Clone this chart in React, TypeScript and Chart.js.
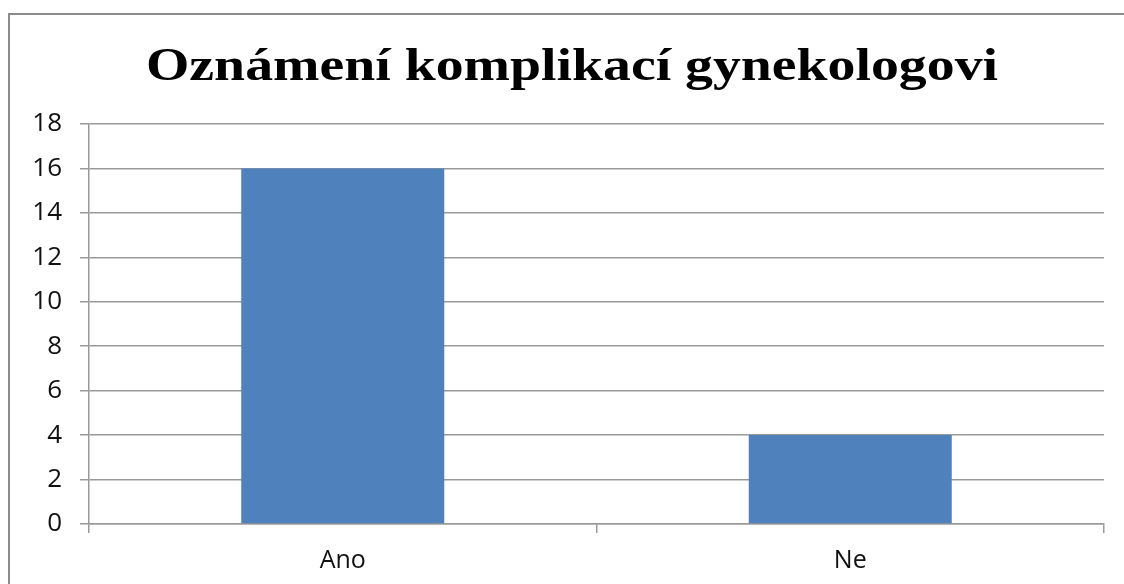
import React, { useEffect, useRef } from "react";
import { Chart, registerables } from "chart.js";

Chart.register(...registerables);

const title = "Oznámení komplikací gynekologovi";
const categories = ["Ano", "Ne"];
const values = [16, 4];
const yMin = 0;
const yMax = 18;
const yStep = 2;

const frame = {
  id: "frame",
  beforeDraw(chart: any) {
    const ctx = chart.ctx;
    ctx.save();
    ctx.fillStyle = "#ffffff";
    ctx.fillRect(0, 0, chart.width, chart.height);
    ctx.strokeStyle = "#8c8c8c";
    ctx.lineWidth = 2;
    ctx.strokeRect(9, 14, chart.width + 20, chart.height + 20);
    ctx.restore();
  },
  afterDraw(chart: any) {
    const ctx = chart.ctx;
    ctx.save();
    ctx.fillStyle = "#000";
    ctx.font = "bold 47px 'Liberation Serif', 'DejaVu Serif', serif";
    ctx.textAlign = "center";
    ctx.textBaseline = "alphabetic";
    const target = 852;
    const w = ctx.measureText(title).width;
    ctx.translate(572, 80);
    ctx.scale(target / w, 1);
    ctx.fillText(title, 0, 0);
    ctx.restore();
  },
};

export default function App() {
  const ref = useRef<HTMLCanvasElement>(null);
  useEffect(() => {
    document.body.style.margin = "0";
    const chart = new Chart(ref.current!, {
      type: "bar",
      data: {
        labels: categories,
        datasets: [
          {
            data: values,
            backgroundColor: "#4f81bd",
            barPercentage: 0.4,
            categoryPercentage: 1,
          },
        ],
      },
      options: {
        animation: false,
        responsive: false,
        devicePixelRatio: 1,
        layout: { padding: { top: 124, right: 20, left: 0, bottom: 0 } },
        plugins: { legend: { display: false }, title: { display: false }, tooltip: { enabled: false } },
        scales: {
          x: {
            offset: true,
            grid: {
              offset: true,
              drawOnChartArea: false,
              drawTicks: true,
              tickLength: 9,
              color: "#999",
              lineWidth: 1.5,
            },
            border: { display: true, color: "#999", width: 1.5 },
            ticks: {
              color: "#111",
              padding: 13,
              font: { family: "'Open Sans', sans-serif", size: 25 },
            },
            afterFit(scale: any) {
              scale.height = 60;
            },
          },
          y: {
            min: yMin,
            max: yMax,
            ticks: {
              stepSize: yStep,
              color: "#111",
              padding: 18,
              font: { family: "'Open Sans', sans-serif", size: 26 },
            },
            grid: { color: "#999", lineWidth: 1.5, tickLength: 9 },
            border: { display: true, color: "#999", width: 1.5 },
            afterFit(scale: any) {
              scale.width = 89;
            },
          },
        },
      },
      plugins: [frame],
    });
    return () => chart.destroy();
  }, []);
  return <canvas ref={ref} width={1124} height={584} style={{ display: "block" }} />;
}
